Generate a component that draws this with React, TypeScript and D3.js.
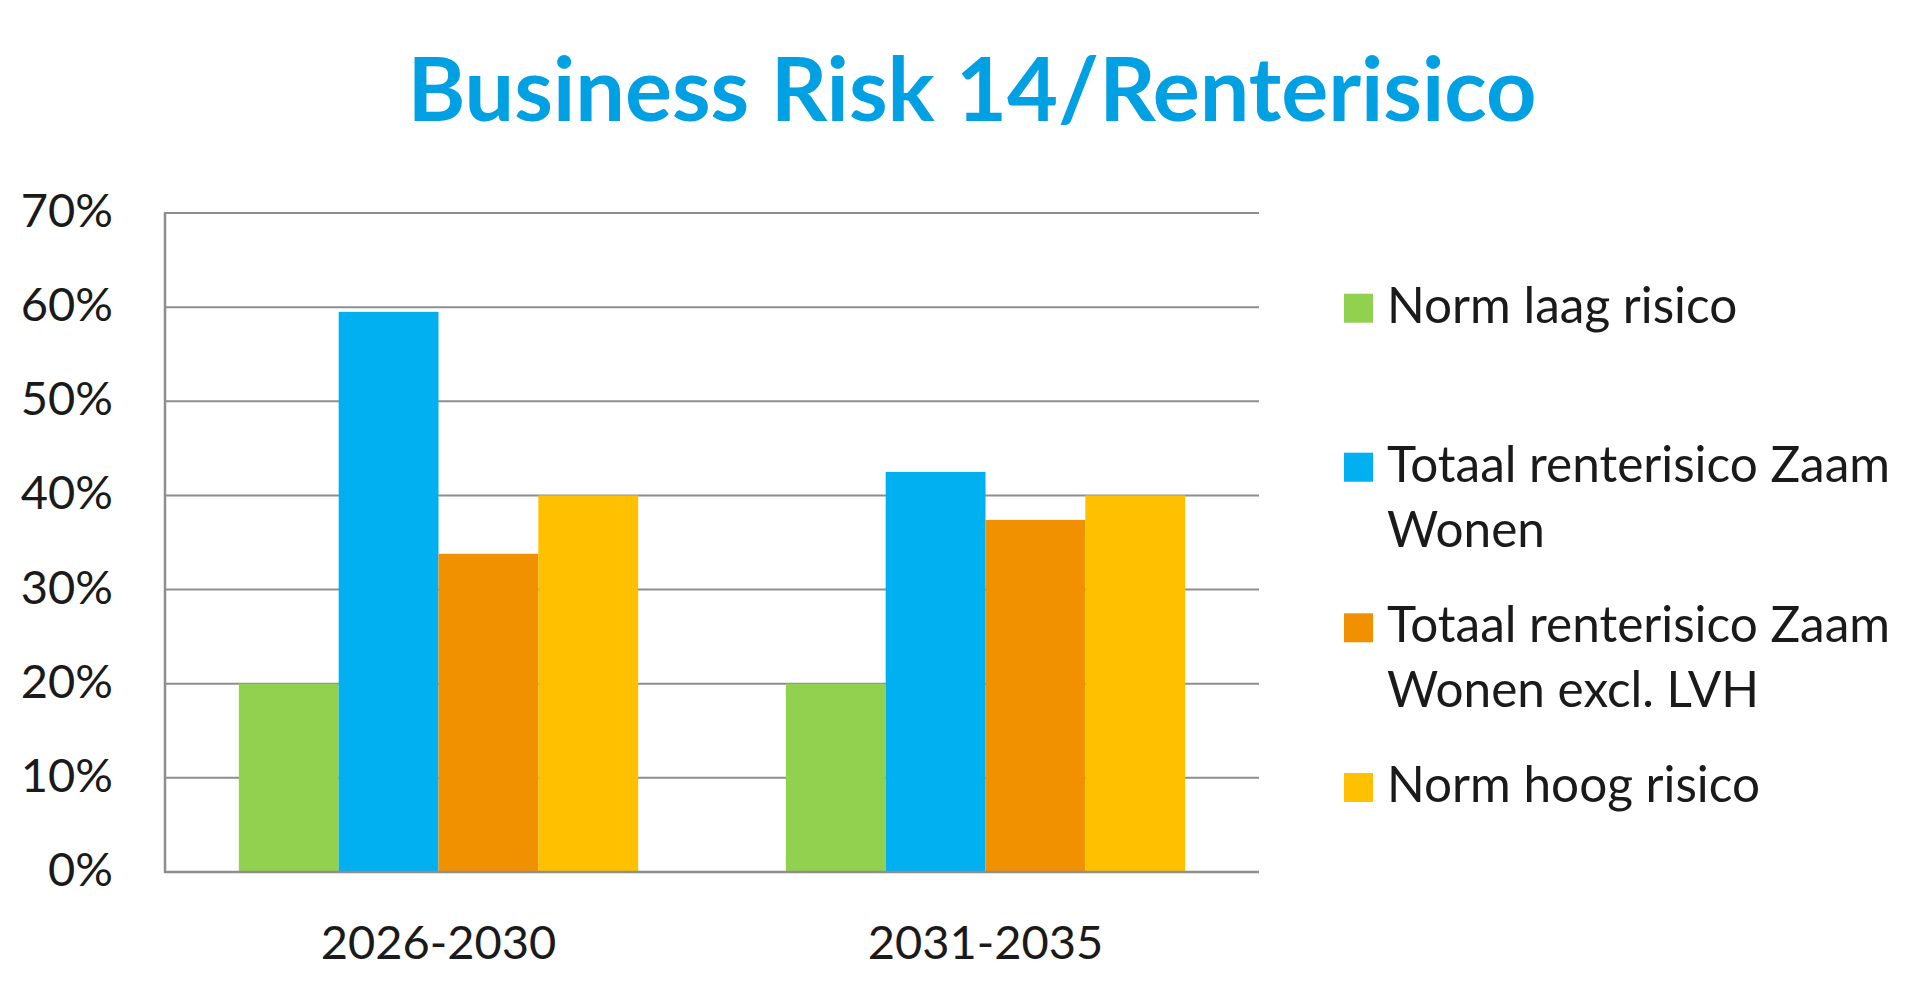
import React from "react";
import * as d3 from "d3";

const categories = ["2026-2030", "2031-2035"];
const seriesNames = [
  "Norm laag risico",
  "Totaal renterisico Zaam Wonen",
  "Totaal renterisico Zaam Wonen excl. LVH",
  "Norm hoog risico",
];
const legendLines = [
  ["Norm laag risico"],
  ["Totaal renterisico Zaam", "Wonen"],
  ["Totaal renterisico Zaam", "Wonen excl. LVH"],
  ["Norm hoog risico"],
];
const normLaag = [0.2, 0.2];
const totaal = [0.595, 0.425];
const totaalExcl = [0.338, 0.374];
const normHoog = [0.4, 0.4];
const seriesValues = [normLaag, totaal, totaalExcl, normHoog];
const seriesColors = ["#92D050", "#00B0F0", "#F29100", "#FFC000"];
const yTicks = [0, 0.1, 0.2, 0.3, 0.4, 0.5, 0.6, 0.7];
const title = "Business Risk 14/Renterisico";

const W = 1920;
const H = 995;
const FONT = "Lato, 'Open Sans', sans-serif";

export default function App() {
  const y = d3.scaleLinear().domain([0, 0.7]).range([872, 213]);
  const x0 = d3
    .scaleBand<string>()
    .domain(categories)
    .range([165, 1259])
    .paddingInner(0.27)
    .paddingOuter(0.135);
  const x1 = d3
    .scaleBand<string>()
    .domain(seriesNames)
    .range([0, x0.bandwidth()])
    .padding(0);
  const fmt = d3.format(".0%");
  const legendBaselines = [322.7, 481.7, 642.3, 802];
  const lineGap = 65;
  const sq = 29;

  return (
    <div style={{ position: "absolute", left: 0, top: 0 }}>
      <svg width={W} height={H} style={{ display: "block", background: "#fff" }}>
        <text
          x={972}
          y={121}
          textAnchor="middle"
          fontFamily={FONT}
          fontWeight={700}
          fontSize={88}
          fill="#00A0E3"
        >
          {title}
        </text>

        {yTicks.map((t) => (
          <line
            key={"g" + t}
            x1={165}
            x2={1259}
            y1={y(t)}
            y2={y(t)}
            stroke="#8E8E8E"
            strokeWidth={2}
          />
        ))}
        <line x1={165} x2={165} y1={y(0.7) - 1} y2={y(0) + 1} stroke="#8E8E8E" strokeWidth={2.5} />

        {categories.map((c, ci) => (
          <g key={c} transform={`translate(${x0(c)},0)`}>
            {seriesNames.map((s, si) => (
              <rect
                key={s}
                x={x1(s)}
                y={y(seriesValues[si][ci])}
                width={x1.bandwidth()}
                height={y(0) - y(seriesValues[si][ci])}
                fill={seriesColors[si]}
              />
            ))}
          </g>
        ))}
        <line x1={164} x2={1259} y1={y(0)} y2={y(0)} stroke="#8E8E8E" strokeWidth={2.5} />

        {yTicks.map((t) => (
          <text
            key={"t" + t}
            x={113}
            y={y(t) + 14}
            textAnchor="end"
            fontFamily={FONT}
            fontSize={47}
            fill="#1a1a1a"
          >
            {fmt(t)}
          </text>
        ))}

        {categories.map((c) => (
          <text
            key={"x" + c}
            x={(x0(c) as number) + x0.bandwidth() / 2}
            y={959}
            textAnchor="middle"
            fontFamily={FONT}
            fontSize={47}
            fill="#1a1a1a"
          >
            {c}
          </text>
        ))}

        {legendLines.map((lines, i) => (
          <g key={"l" + i}>
            <rect
              x={1344}
              y={legendBaselines[i] - sq}
              width={sq}
              height={sq}
              fill={seriesColors[i]}
            />
            <text fontFamily={FONT} fontSize={49.5} fill="#1a1a1a">
              {lines.map((ln, li) => (
                <tspan key={li} x={1387} y={legendBaselines[i] + li * lineGap}>
                  {ln}
                </tspan>
              ))}
            </text>
          </g>
        ))}
      </svg>
    </div>
  );
}
